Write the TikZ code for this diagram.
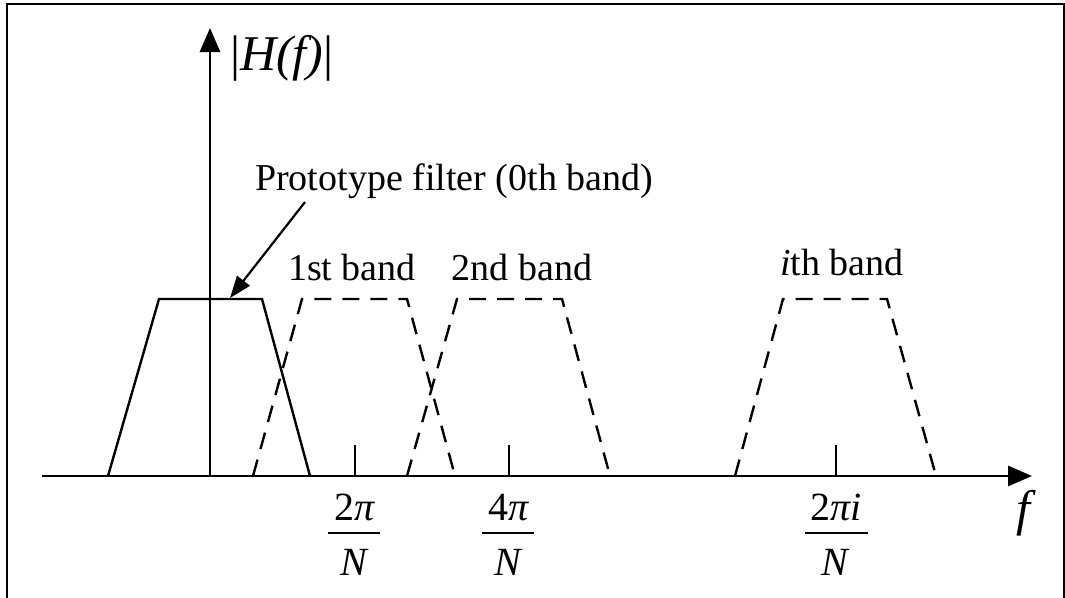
\documentclass[tikz,border=0pt]{standalone}
\usepackage{fontspec}
\setmainfont{Liberation Serif}
\usetikzlibrary{arrows.meta}
\begin{document}
\begin{tikzpicture}[x=1pt,y=-1pt,
  axisline/.style={line width=2.8pt,-{Triangle[length=24pt,width=20pt]}},
  bandsolid/.style={line width=2.4pt},
  banddash/.style={line width=2.4pt,dash pattern=on 17pt off 11pt},
  tickline/.style={line width=2.4pt},
  lbl/.style={inner sep=0pt,font=\fontsize{38}{44}\selectfont},
  biglbl/.style={inner sep=0pt,font=\fontsize{50}{56}\selectfont},
  fracpart/.style={inner sep=0pt,font=\fontsize{40}{46}\selectfont},
  fracbar/.style={line width=2.2pt}]
\useasboundingbox (0,0) rectangle (1065,597);
% frame
\draw[line width=2pt] (7,600) -- (7,4) -- (1064,4) -- (1064,600);
% axis coordinates
\coordinate (xs) at (42,476);
\coordinate (xe) at (1032,476);
\coordinate (o) at (210,476);
\coordinate (ye) at (210,28);
% prototype filter
\coordinate (p1) at (108,476); \coordinate (p2) at (159,299);
\coordinate (p3) at (262,299); \coordinate (p4) at (310,476);
\draw[bandsolid] (p1) -- (p2) -- (p3) -- (p4);
% 1st band
\coordinate (a1) at (253,476); \coordinate (a2) at (302,299);
\coordinate (a3) at (407,299); \coordinate (a4) at (455,476);
\draw[banddash] (a1) -- (a2) -- (a3) -- (a4);
% 2nd band
\coordinate (b1) at (407,476); \coordinate (b2) at (457,299);
\coordinate (b3) at (562,299); \coordinate (b4) at (610,476);
\draw[banddash] (b1) -- (b2) -- (b3) -- (b4);
% ith band
\coordinate (c1) at (735,476); \coordinate (c2) at (783,299);
\coordinate (c3) at (887,299); \coordinate (c4) at (936,476);
\draw[banddash] (c1) -- (c2) -- (c3) -- (c4);
% axes
\draw[axisline] (xs) -- (xe);
\draw[axisline] (o) -- (ye);
% ticks
\coordinate (t1) at (355,476); \coordinate (t1e) at (355,445);
\coordinate (t2) at (509,476); \coordinate (t2e) at (509,445);
\coordinate (t3) at (836,476); \coordinate (t3e) at (836,445);
\draw[tickline] (t1) -- (t1e);
\draw[tickline] (t2) -- (t2e);
\draw[tickline] (t3) -- (t3e);
% labels
\node[biglbl,anchor=base west] (hf) at (230,70) {|\textit{H(f)}|};
\node[biglbl,anchor=base] (fl) at (1026,525) {\textit{f}};
\node[lbl,anchor=base west] (proto) at (255,190) {Prototype filter (0th band)};
\node[lbl,anchor=base] (l1) at (352,280) {1st band};
\node[lbl,anchor=base] (l2) at (522,280) {2nd band};
\node[lbl,anchor=base] (li) at (842,275) {\textit{i}th band};
% fractions
\node[fracpart,anchor=base] (f1n) at (355,520) {2\textit{π}};
\node[fracpart,anchor=base] (f1d) at (355,575) {\textit{N}};
\draw[fracbar] (328,533) -- (380,533);
\node[fracpart,anchor=base] (f2n) at (509,520) {4\textit{π}};
\node[fracpart,anchor=base] (f2d) at (509,575) {\textit{N}};
\draw[fracbar] (482,533) -- (534,533);
\node[fracpart,anchor=base] (f3n) at (836,520) {2\textit{πi}};
\node[fracpart,anchor=base] (f3d) at (836,575) {\textit{N}};
\draw[fracbar] (805,533) -- (868,533);
% pointer arrow
\coordinate (ps) at (305,202);
\coordinate (pt) at (230,298);
\draw[line width=2.2pt,-{Triangle[length=22pt,width=16pt]}] (ps) -- (pt);
\end{tikzpicture}
\end{document}
